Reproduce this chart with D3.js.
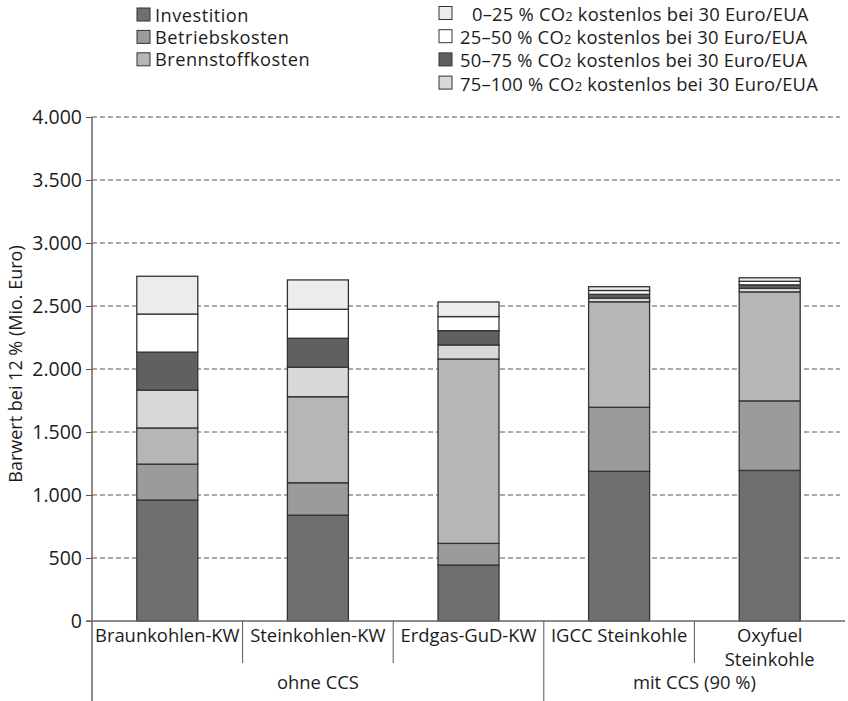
<!DOCTYPE html>
<html>
<head>
<meta charset="utf-8">
<script src="https://cdn.jsdelivr.net/npm/d3@7"></script>
<style>
  body { margin: 0; background: #fff; }
  text { font-family: "Open Sans", sans-serif; fill: #1c1c1c; }
</style>
</head>
<body>
<div id="wrapper"></div>
<script>
// Data (Mio. Euro)
const categories = ["Braunkohlen-KW", "Steinkohlen-KW", "Erdgas-GuD-KW", "IGCC Steinkohle", "Oxyfuel Steinkohle"];
const groups = ["ohne CCS", "mit CCS (90 %)"];
const groupOf = [0, 0, 0, 1, 1];

const investition = [960, 840, 444, 1188, 1195];
const betriebskosten = [285, 257, 172, 508, 552];
const brennstoffkosten = [287, 683, 1463, 837, 865];
const co2_75_100 = [300, 234, 112, 30, 28];
const co2_50_75 = [302, 230, 113, 30, 28];
const co2_25_50 = [302, 230, 112, 30, 28];
const co2_0_25 = [300, 233, 116, 30, 28];

const yTicks = [0, 500, 1000, 1500, 2000, 2500, 3000, 3500, 4000];

const seriesKeys = ["inv", "betr", "brenn", "c75", "c50", "c25", "c0"];
const seriesValues = [investition, betriebskosten, brennstoffkosten, co2_75_100, co2_50_75, co2_25_50, co2_0_25];
const seriesColors = ["#6f6f71", "#9b9b9d", "#b5b6b8", "#d7d8da", "#606062", "#ffffff", "#ececec"];

const legendLeft = [
  { label: "Investition", key: "inv" },
  { label: "Betriebskosten", key: "betr" },
  { label: "Brennstoffkosten", key: "brenn" },
];
const legendRight = [
  { label: "0–25", key: "c0", pad: true },
  { label: "25–50", key: "c25" },
  { label: "50–75", key: "c50" },
  { label: "75–100", key: "c75" },
];

const table = categories.map((c, i) => {
  const row = { category: c };
  seriesKeys.forEach((k, j) => (row[k] = seriesValues[j][i]));
  return row;
});
const colorOf = d3.scaleOrdinal().domain(seriesKeys).range(seriesColors);

// Dimensions
const width = 848;
const height = 701;
const margin = { top: 117, right: 3, bottom: 80, left: 92 };
const boundedWidth = width - margin.left - margin.right;
const boundedHeight = height - margin.top - margin.bottom;

const svg = d3.select("#wrapper").append("svg")
  .attr("width", width).attr("height", height);

const bounds = svg.append("g")
  .attr("transform", `translate(${margin.left},${margin.top})`);

// Scales
const yScale = d3.scaleLinear().domain([0, 4000]).range([boundedHeight, 0]);
const xScale = d3.scaleBand().domain(categories).range([0, boundedWidth]).paddingInner(0).paddingOuter(0);
const barWidth = xScale.bandwidth() * 0.405;

const de = d3.formatLocale({ decimal: ",", thousands: ".", grouping: [3], currency: ["", " €"] });
const fmt = de.format(",");

// Grid
bounds.append("g")
  .selectAll("line")
  .data(yTicks.filter((d) => d > 0))
  .join("line")
  .attr("x1", 0)
  .attr("x2", boundedWidth - 5)
  .attr("y1", (d) => yScale(d))
  .attr("y2", (d) => yScale(d))
  .attr("stroke", "#555")
  .attr("stroke-width", 1)
  .attr("stroke-dasharray", "5 3");

// Bars
const stack = d3.stack().keys(seriesKeys);
const stacked = stack(table);

bounds.append("g")
  .selectAll("g")
  .data(stacked)
  .join("g")
  .attr("fill", (d) => colorOf(d.key))
  .selectAll("rect")
  .data((d) => d)
  .join("rect")
  .attr("x", (d) => xScale(d.data.category) + (xScale.bandwidth() - barWidth) / 2)
  .attr("y", (d) => yScale(d[1]))
  .attr("width", barWidth)
  .attr("height", (d) => yScale(d[0]) - yScale(d[1]))
  .attr("stroke", "#333")
  .attr("stroke-width", 1.3);

// Y axis
const yAxis = bounds.append("g")
  .call(d3.axisLeft(yScale).tickValues(yTicks).tickFormat(fmt).tickSize(6).tickPadding(4));
yAxis.select(".domain").remove();
yAxis.selectAll(".tick line").attr("stroke", "#555");
yAxis.selectAll(".tick text")
  .style("font-family", "'Open Sans', sans-serif")
  .style("font-size", "19.5px")
  .attr("fill", "#1c1c1c");

bounds.append("line")
  .attr("x1", 0).attr("x2", 0)
  .attr("y1", 0).attr("y2", height - margin.top)
  .attr("stroke", "#666").attr("stroke-width", 1.5);

bounds.append("text")
  .attr("transform", `translate(${17 - margin.left},${yScale(2000) - 5}) rotate(-90)`)
  .attr("text-anchor", "middle")
  .attr("dominant-baseline", "middle")
  .style("font-size", "18px")
  .text("Barwert bei 12 % (Mio. Euro)");

// X axis (categories + groups)
const xAxisG = bounds.append("g").attr("transform", `translate(0,${boundedHeight})`);
xAxisG.append("line")
  .attr("x1", -6).attr("x2", boundedWidth)
  .attr("stroke", "#666").attr("stroke-width", 1.5);

xAxisG.selectAll(".sep")
  .data(categories.slice(1))
  .join("line")
  .attr("class", "sep")
  .attr("x1", (d) => xScale(d)).attr("x2", (d) => xScale(d))
  .attr("y1", 0)
  .attr("y2", (d, i) => (groupOf[i + 1] !== groupOf[i] ? height - margin.top - boundedHeight : 42))
  .attr("stroke", "#555").attr("stroke-width", 1);

const catLabels = xAxisG.selectAll(".cat")
  .data(categories)
  .join("text")
  .attr("class", "cat")
  .attr("text-anchor", "middle")
  .style("font-size", "18.4px")
  .attr("y", 21);
catLabels.each(function (d) {
  const words = d === "Oxyfuel Steinkohle" ? ["Oxyfuel", "Steinkohle"] : [d];
  d3.select(this).selectAll("tspan")
    .data(words)
    .join("tspan")
    .attr("x", xScale(d) + xScale.bandwidth() / 2)
    .attr("dy", (w, i) => (i === 0 ? 0 : 24))
    .text((w) => w);
});

xAxisG.selectAll(".grp")
  .data(groups)
  .join("text")
  .attr("class", "grp")
  .attr("text-anchor", "middle")
  .style("font-size", "18.4px")
  .attr("x", (g, gi) => {
    const cats = categories.filter((c, i) => groupOf[i] === gi);
    return (xScale(cats[0]) + xScale(cats[cats.length - 1]) + xScale.bandwidth()) / 2;
  })
  .attr("y", 68)
  .text((g) => g);

// Legend
const sq = 13;
const legendL = svg.append("g").attr("transform", "translate(137,8)");
const rowL = legendL.selectAll("g").data(legendLeft).join("g")
  .attr("transform", (d, i) => `translate(0,${i * 22.4})`);
rowL.append("rect").attr("width", sq).attr("height", sq)
  .attr("fill", (d) => colorOf(d.key)).attr("stroke", "#333").attr("stroke-width", 1);
rowL.append("text").attr("x", 18).attr("y", sq / 2).attr("dominant-baseline", "central")
  .style("font-size", "18.2px").style("letter-spacing", "0.5px").text((d) => d.label);

const legendR = svg.append("g").attr("transform", "translate(439,6.5)");
const rowR = legendR.selectAll("g").data(legendRight).join("g")
  .attr("transform", (d, i) => `translate(0,${i * 23.2})`);
rowR.append("rect").attr("width", sq).attr("height", sq)
  .attr("fill", (d) => colorOf(d.key)).attr("stroke", "#333").attr("stroke-width", 1);
const rtext = rowR.append("text").attr("x", (d) => (d.pad ? 33 : 21)).attr("y", sq / 2)
  .attr("dominant-baseline", "central").style("font-size", "18.4px").style("letter-spacing", "0.2px");
rtext.append("tspan").text((d) => d.label + " % CO");
rtext.append("tspan").attr("dy", 3).style("font-size", "13px").text("2");
rtext.append("tspan").attr("dy", -3).text(" kostenlos bei 30 Euro/EUA");
</script>
</body>
</html>
